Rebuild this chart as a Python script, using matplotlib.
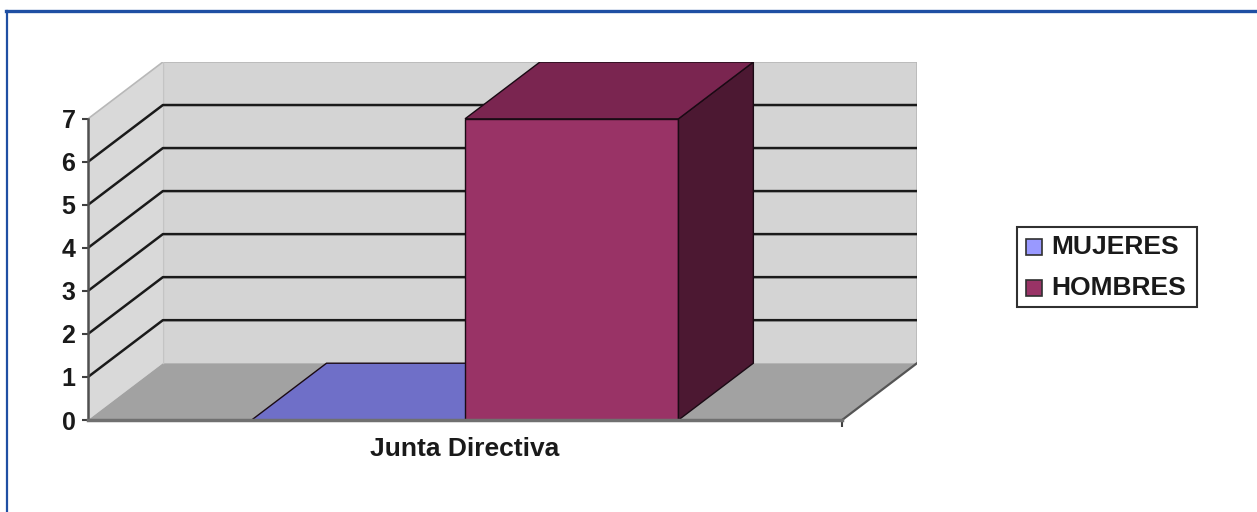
import matplotlib
matplotlib.use("Agg")
import matplotlib.pyplot as plt
from matplotlib.patches import Polygon, Rectangle
from matplotlib.lines import Line2D

# ---------------- data ----------------
categories = ["Junta Directiva"]
series_names = ["MUJERES", "HOMBRES"]
mujeres = [0]
hombres = [7]
series_values = [mujeres, hombres]
y_ticks = [0, 1, 2, 3, 4, 5, 6, 7]
y_max = 7

# ---------------- style ----------------
W, H = 1257, 512
series_colors = ["#9999FF", "#993366"]
top_colors = ["#6f6fc8", "#7a2550"]
side_colors = ["#4f4fa0", "#4c1832"]
wall_color = "#d4d4d4"
side_wall_color = "#d9d9d9"
floor_color = "#a2a2a2"
bar_width = 0.283
depth_x = 0.0993          # depth offset in category units
depth_y = 1.32            # depth offset in value units
FONT = "Liberation Sans"

plt.rcParams["font.family"] = [FONT, "DejaVu Sans"]

fig = plt.figure(figsize=(W / 100, H / 100), dpi=100)
fig.patch.set_facecolor("white")

ax_left, ax_right, ax_bottom, ax_top = 88, 917, 420, 62
ax = fig.add_axes([ax_left / W, 1 - ax_bottom / H,
                   (ax_right - ax_left) / W, (ax_bottom - ax_top) / H])
ax.set_xlim(0, 1 + depth_x)
ax.set_ylim(0, y_max + depth_y)
ax.set_facecolor("none")

# walls and floor
ax.add_patch(Polygon([(depth_x, depth_y), (1 + depth_x, depth_y),
                      (1 + depth_x, y_max + depth_y), (depth_x, y_max + depth_y)],
                     closed=True, facecolor=wall_color, edgecolor="none", zorder=1))
ax.add_patch(Polygon([(0, 0), (depth_x, depth_y), (depth_x, y_max + depth_y), (0, y_max)],
                     closed=True, facecolor=side_wall_color, edgecolor="none", zorder=1))
ax.add_patch(Polygon([(0, 0), (1, 0), (1 + depth_x, depth_y), (depth_x, depth_y)],
                     closed=True, facecolor=floor_color, edgecolor="none", zorder=1))

ax.plot([0, depth_x, 1 + depth_x, 1 + depth_x],
        [y_max, y_max + depth_y, y_max + depth_y, depth_y],
        color="#b8b8b8", lw=1.2, zorder=2, solid_joinstyle="miter")
ax.plot([depth_x, depth_x], [depth_y, y_max + depth_y], color="#c4c4c4", lw=1.0, zorder=2)

for t in y_ticks[1:-1]:
    ax.plot([0, depth_x, 1 + depth_x], [t, t + depth_y, t + depth_y],
            color="#1a1a1a", lw=1.8, zorder=2)

ax.plot([1, 1 + depth_x], [0, depth_y], color="#555555", lw=1.6, zorder=2)

# bars
n = len(series_names)
for ci, cat in enumerate(categories):
    start = ci + 0.5 - n * bar_width / 2
    for si, vals in enumerate(series_values):
        x0 = start + si * bar_width
        x1 = x0 + bar_width
        h = vals[ci]
        z = 3 + si
        ax.add_patch(Polygon([(x0, 0), (x1, 0), (x1, h), (x0, h)], closed=True,
                             facecolor=series_colors[si], edgecolor="#1a0a14", lw=1.0, zorder=z))
        ax.add_patch(Polygon([(x1, 0), (x1 + depth_x, depth_y), (x1 + depth_x, h + depth_y), (x1, h)],
                             closed=True, facecolor=side_colors[si], edgecolor="#1a0a14", lw=1.0, zorder=z))
        ax.add_patch(Polygon([(x0, h), (x1, h), (x1 + depth_x, h + depth_y), (x0 + depth_x, h + depth_y)],
                             closed=True, facecolor=top_colors[si], edgecolor="#1a0a14", lw=1.0, zorder=z))

for s in ["top", "right"]:
    ax.spines[s].set_visible(False)
ax.spines["left"].set_bounds(0, y_max)
ax.spines["left"].set_color("#505050")
ax.spines["left"].set_linewidth(1.8)
ax.spines["left"].set_zorder(6)
ax.spines["bottom"].set_bounds(0, 1)
ax.spines["bottom"].set_color("#707070")
ax.spines["bottom"].set_linewidth(2.5)
ax.spines["bottom"].set_zorder(6)

ax.set_yticks(y_ticks)
ax.set_yticklabels([str(t) for t in y_ticks], fontsize=18, fontweight="bold", fontfamily=FONT,
                   color="#1a1a1a")
ax.tick_params(axis="y", direction="out", length=4, width=1.5, color="#404040", pad=5)

ax.set_xticks([ci + 0.5 for ci in range(len(categories))])
ax.set_xticklabels(categories, fontsize=19, fontweight="bold", fontfamily=FONT, color="#1a1a1a")
ax.tick_params(axis="x", which="major", length=0, pad=12)
ax.set_xticks([len(categories)], minor=True)
ax.tick_params(axis="x", which="minor", direction="out", length=5, width=1.5, color="#404040")

# legend (figure pixel coords)
def fx(x):
    return x / W

def fy(y):
    return 1 - y / H

fig.add_artist(Rectangle((fx(1017), fy(307)), fx(1197) - fx(1017), fy(227) - fy(307),
                         transform=fig.transFigure, facecolor="white", edgecolor="#303030", lw=1.5))
legend_rows_y = [247, 288]
for si, name in enumerate(series_names):
    yc = legend_rows_y[si]
    fig.add_artist(Rectangle((fx(1026), fy(yc + 8)), fx(16), 16 / H,
                             transform=fig.transFigure, facecolor=series_colors[si],
                             edgecolor="#303030", lw=1.2))
    fig.text(fx(1051), fy(yc), name, fontsize=19, fontweight="bold", fontfamily=FONT,
             ha="left", va="center", color="#1a1a1a")

# blue frame
fig.add_artist(Line2D([fx(6), 1.0], [fy(10.5), fy(10.5)], transform=fig.transFigure,
                      color="#1f4fa3", lw=2.4))
fig.add_artist(Line2D([fx(7), fx(7)], [fy(10.5), 0.0], transform=fig.transFigure,
                      color="#1f4fa3", lw=1.6))

fig.savefig("out.png", dpi=100, facecolor="white")
